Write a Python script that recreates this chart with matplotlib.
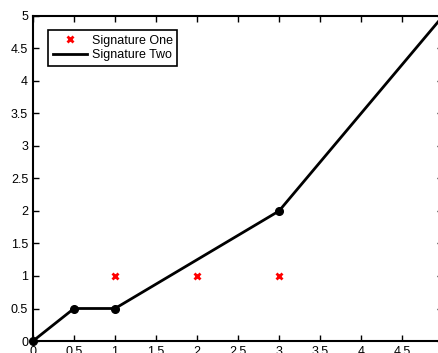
import numpy as np
import matplotlib
matplotlib.use("Agg")
from matplotlib import pyplot as plt

plt.rcParams['font.family'] = ['Liberation Sans', 'DejaVu Sans']

# Signature One (red crosses)
sig1_x = [1, 2, 3]
sig1_y = [1, 1, 1]

# Signature Two (black polyline with vertex markers)
sig2_x = [0, 0.5, 1, 3, 5]
sig2_y = [0, 0.5, 0.5, 2, 5]
vertex_x = [0, 0.5, 1, 3]
vertex_y = [0, 0.5, 0.5, 2]

xticks = np.arange(0, 5.01, 0.5)
yticks = np.arange(0, 5.01, 0.5)

fig = plt.figure(figsize=(4.39, 3.53), dpi=100)
# axes extend past the right edge of the canvas, like the cropped original
ax = fig.add_axes([33 / 439, 12 / 353, 410 / 439, 325 / 353])

ax.plot(sig1_x, sig1_y, 'x', color='red', markersize=4, markeredgewidth=2,
        label='Signature One')
ax.plot(sig2_x, sig2_y, '-', color='black', linewidth=2, label='Signature Two')
ax.plot(vertex_x, vertex_y, 'o', color='black', markersize=5.5, clip_on=False)

ax.set_xlim(0, 5)
ax.set_ylim(0, 5)
ax.set_xticks(xticks)
ax.set_yticks(yticks)
ax.set_xticklabels(['%g' % t for t in xticks])
ax.set_yticklabels(['%g' % t for t in yticks])
ax.tick_params(direction='in', top=True, right=True, length=4, width=1,
               labelsize=9, pad=3.5)
for s in ax.spines.values():
    s.set_linewidth(1.5)

leg = ax.legend(loc='upper left', bbox_to_anchor=(0.037, 0.957), fontsize=9,
                fancybox=False, edgecolor='black', framealpha=1,
                handlelength=2.7, borderpad=0.38, labelspacing=0.2,
                handletextpad=0.4, borderaxespad=0)
leg.get_frame().set_linewidth(1.2)

fig.savefig('out.png', dpi=100)
